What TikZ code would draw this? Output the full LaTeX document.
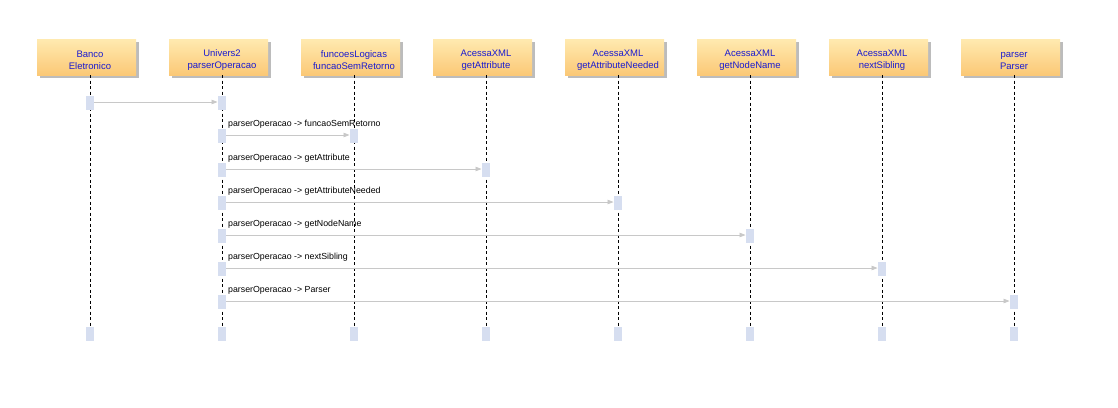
\documentclass[tikz,border=0pt]{standalone}
\usepackage{fontspec}
\setmainfont{Liberation Sans}
\usetikzlibrary{arrows.meta,shadows}
\definecolor{headtop}{HTML}{FFEAB0}
\definecolor{headbot}{HTML}{FBC876}
\definecolor{headtext}{HTML}{1A1AD0}
\definecolor{actc}{HTML}{D6DEF0}
\definecolor{msgc}{HTML}{C8C8C8}
\definecolor{shadc}{HTML}{A0A0A0}
\begin{document}
\begin{tikzpicture}[x=1pt,y=-1pt,
  headbox/.style={draw=none, minimum width=99pt, minimum height=36pt, inner sep=0pt,
    top color=headtop, bottom color=headbot,
    drop shadow={shadow xshift=3pt, shadow yshift=-3pt, fill=shadc, opacity=0.7}},
  headtxt/.style={font=\fontsize{9.5}{12}\selectfont, text=headtext, align=center, inner sep=0pt},
  act/.style={fill=actc, draw=none, minimum width=8.5pt, minimum height=14pt, inner sep=0pt},
  msg/.style={draw=msgc, line width=0.8pt, -{Triangle[length=6pt,width=4.5pt,fill=msgc]}},
  lbl/.style={font=\fontsize{8.8}{10}\selectfont, anchor=west, inner sep=0pt},
  life/.style={draw=black, line width=0.7pt, dash pattern=on 3pt off 2.5pt}
]
\useasboundingbox (0,0) rectangle (1118,407);

% headers
\foreach \i/\t [count=\k from 0] in {b/{Banco\\Eletronico}, u/{Univers2\\parserOperacao}, f/{funcoesLogicas\\funcaoSemRetorno}, ga/{AcessaXML\\getAttribute}, gn/{AcessaXML\\getAttributeNeeded}, nn/{AcessaXML\\getNodeName}, ns/{AcessaXML\\nextSibling}, p/{parser\\Parser}} {
  \pgfmathsetmacro{\xx}{90+132*\k}
  \node[headbox] (box\i) at (\xx-3.5,57) {};
  \node[headtxt] (txt\i) at (\xx,60.5) {\t};
  \coordinate (top\i) at (\xx,75);
  \coordinate (bot\i) at (\xx,327);
  \draw[life] (top\i) -- (bot\i);
  \node[act] (end\i) at (\xx,334) {};
}

% first message
\node[act] (a0s) at (90,103) {};
\node[act] (a0t) at (222,103) {};
\draw[msg] (a0s.east |- 0,102) -- (a0t.west |- 0,102);

% other messages
\foreach \tgt/\k/\y/\name in {f/2/135/funcaoSemRetorno, ga/3/169/getAttribute, gn/4/202/getAttributeNeeded, nn/5/235/getNodeName, ns/6/268/nextSibling, p/7/301/Parser} {
  \pgfmathsetmacro{\xx}{90+132*\k}
  \node[act] (s\tgt) at (222,\y+0.5) {};
  \node[act] (t\tgt) at (\xx,\y+0.5) {};
  \draw[msg] (s\tgt.east |- 0,\y) -- (t\tgt.west |- 0,\y);
  \node[lbl] (l\tgt) at (228,\y-10.5) {parserOperacao -> \name};
}
\end{tikzpicture}
\end{document}
